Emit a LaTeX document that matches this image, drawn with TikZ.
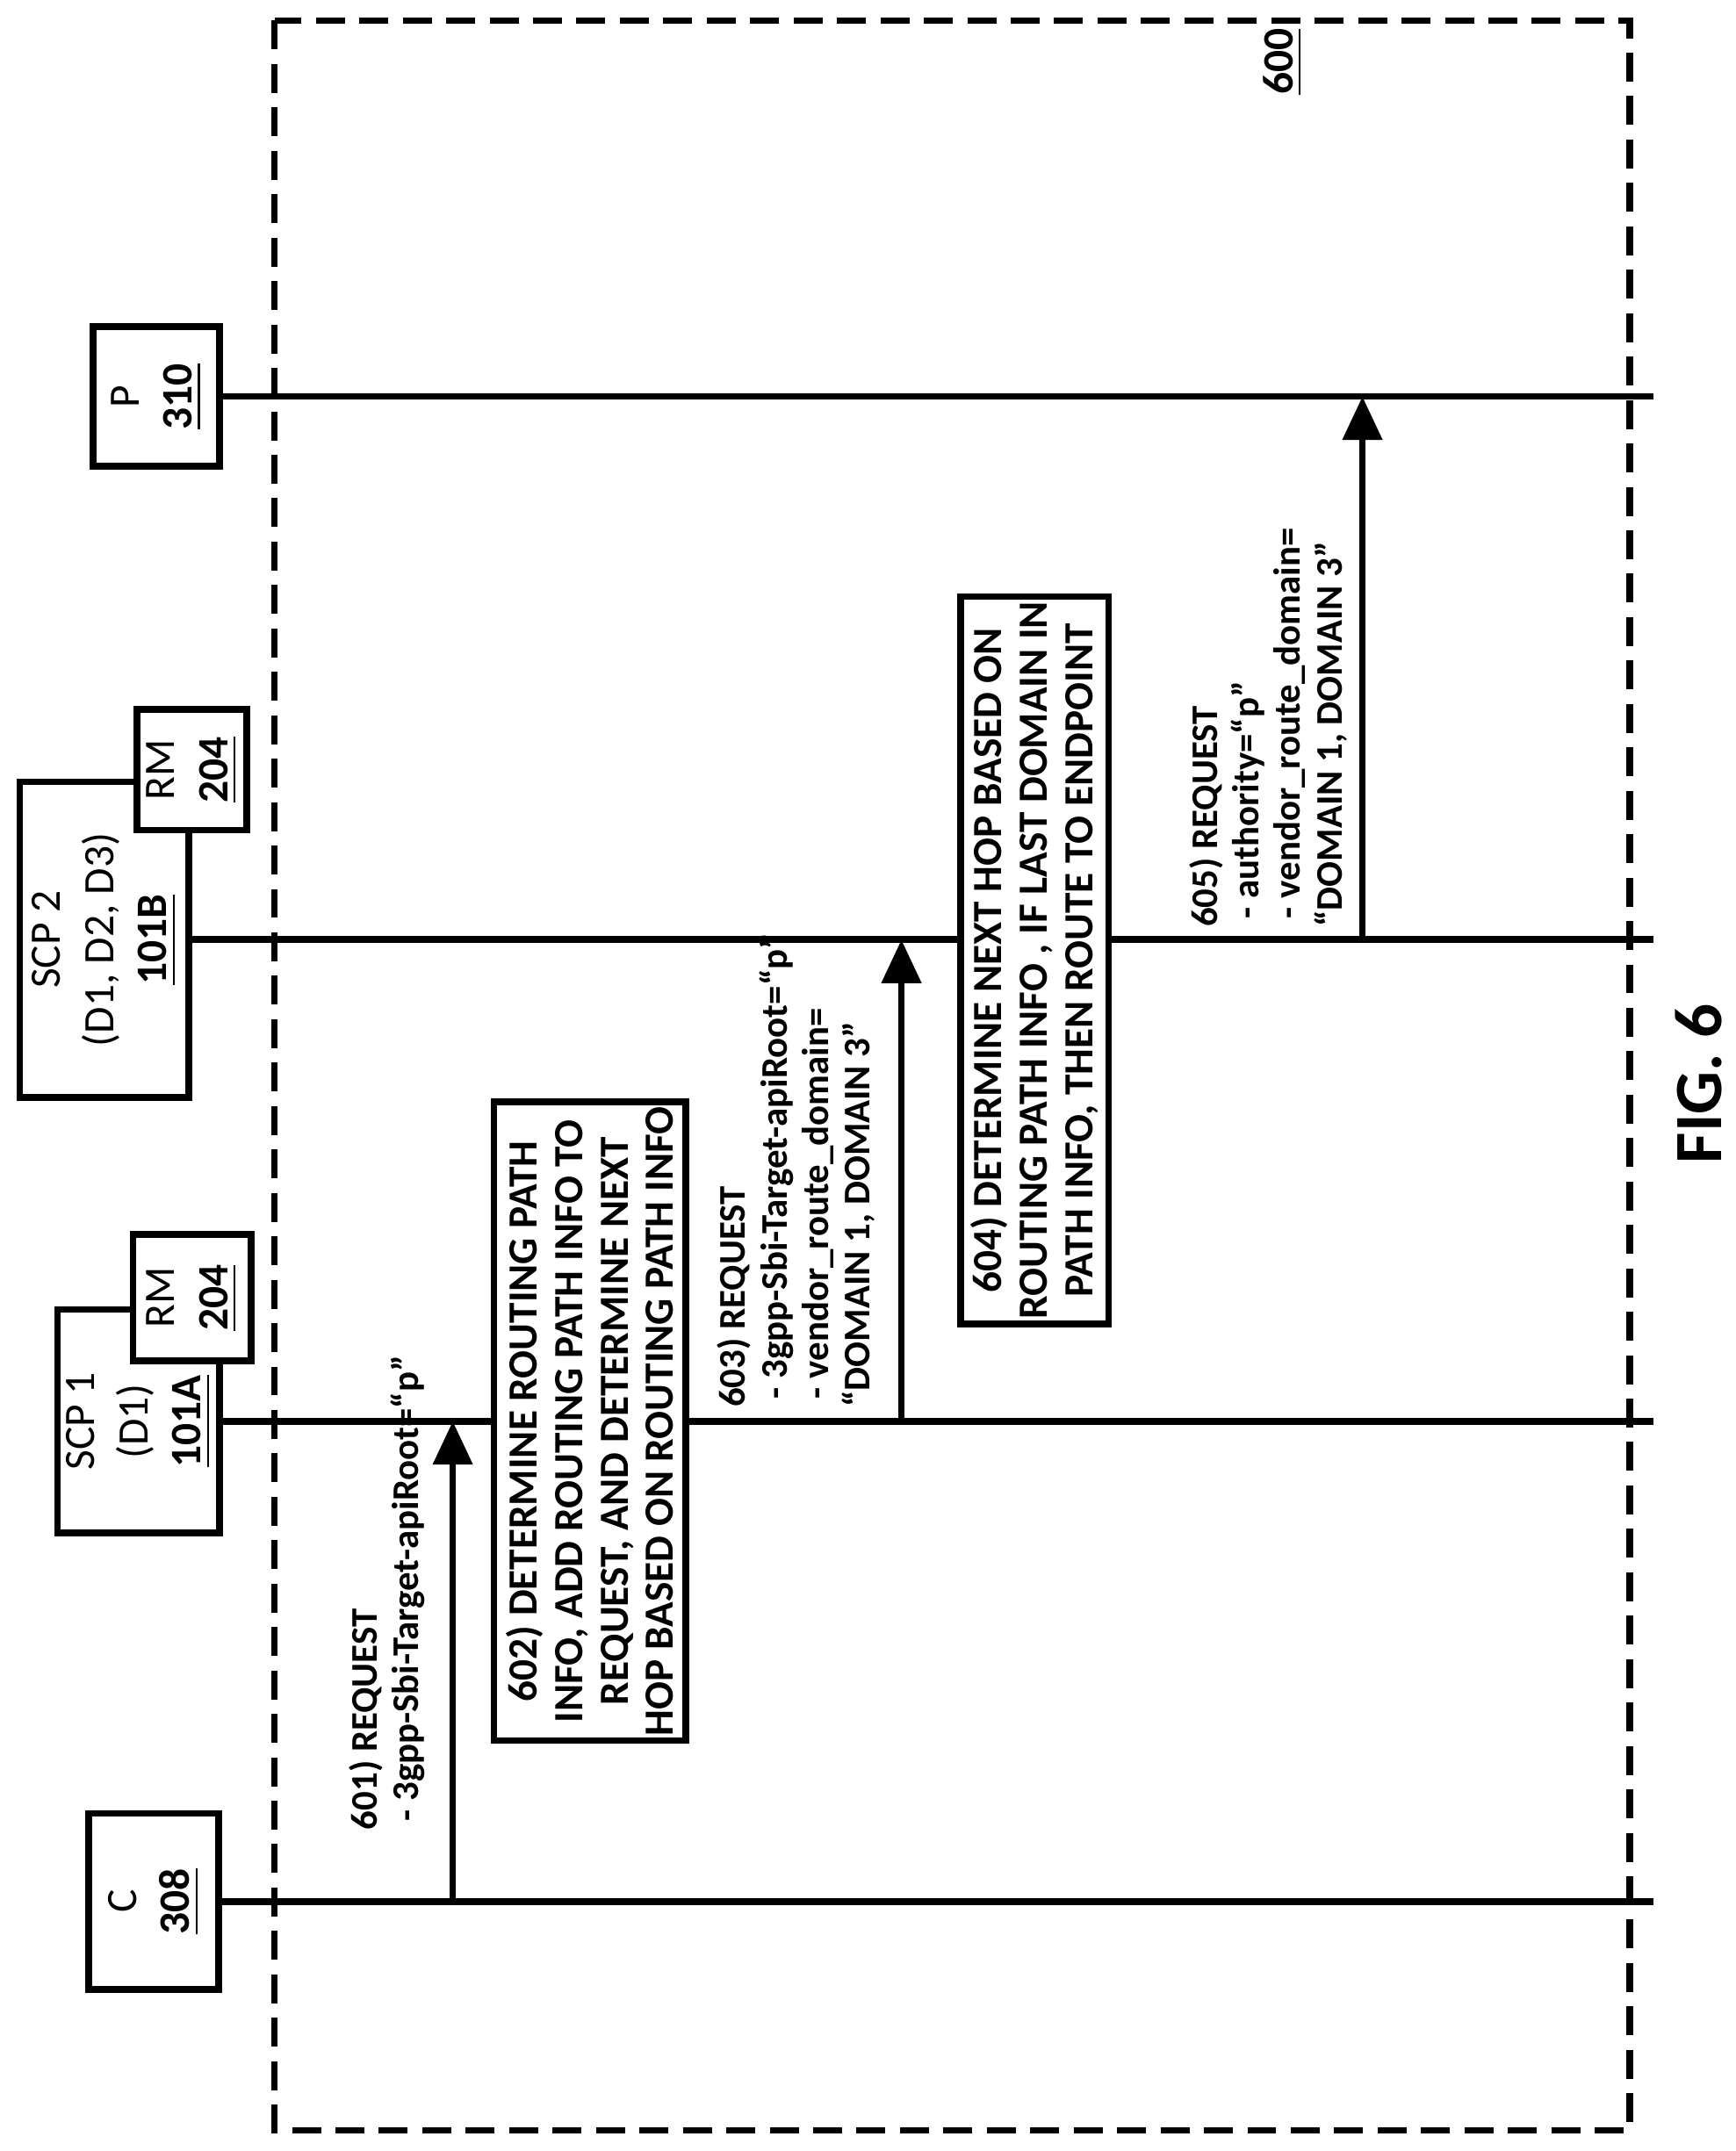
\documentclass[tikz,border=0pt]{standalone}
\usepackage{fontspec}
\setmainfont{Carlito}
\usetikzlibrary{arrows.meta}
\tikzset{
  ent/.style = {draw, line width=1.4pt, fill=white, rotate=90, align=center, inner sep=1pt, font=\fontsize{9}{11}\selectfont},
  life/.style = {line width=1.4pt},
  msg/.style = {line width=1.4pt, -{Triangle[length=9pt,width=8pt]}},
  lbl/.style = {rotate=90, anchor=south west, align=left, inner sep=1pt, font=\bfseries\fontsize{7.8}{8.6}\selectfont},
  procbox/.style = {draw, line width=1.4pt, fill=white, rotate=90, align=center, inner sep=1pt, font=\bfseries\fontsize{8.6}{9.4}\selectfont}
}
\begin{document}
\begin{tikzpicture}[x=0.01cm, y=-0.01cm]
    \useasboundingbox (0,0) rectangle (1265,1568);
    \draw[line width=1.4pt, dash pattern=on 6pt off 3pt] (200,15) rectangle (1188,1553);
    \node[rotate=90, font=\bfseries\fontsize{9}{11}\selectfont] (fig) at (935,45) {\underline{600}};
    % end points of the lifelines
    \coordinate (e) at (1205,0);
    % entities
    \node[ent, minimum width=1.28cm, minimum height=0.95cm] (c) at (112,1386) {C\\\textbf{\underline{308}}};
    \node[ent, minimum width=1.63cm, minimum height=1.18cm] (scp1) at (101,1036) {SCP 1\\(D1)\\\textbf{\underline{101A}}};
    \node[ent, minimum width=0.92cm, minimum height=0.86cm] (rm1) at (140,946) {RM\\\textbf{\underline{204}}};
    \node[ent, minimum width=2.30cm, minimum height=1.23cm] (scp2) at (76,685) {SCP 2\\(D1, D2, D3)\\\textbf{\underline{101B}}};
    \node[ent, minimum width=0.88cm, minimum height=0.80cm] (rm2) at (140,561) {RM\\\textbf{\underline{204}}};
    \node[ent, minimum width=1.02cm, minimum height=0.92cm] (p) at (114,289) {P\\\textbf{\underline{310}}};
    \draw[life] (c.south) -- (c.south -| e);
    \draw[life] (scp1.south) -- (scp1.south -| e);
    \draw[life] (scp2.south) -- (scp2.south -| e);
    \draw[life] (p.south) -- (p.south -| e);
    % messages
    \coordinate (m1a) at (330,1386);
    \coordinate (m1b) at (330,1036);
    \draw[msg] (m1a) -- (m1b);
    \node[lbl] (l601) at (314,1338) {601) REQUEST\\\ - 3gpp-Sbi-Target-apiRoot=“p”};
    \node[procbox, minimum width=4.17cm, minimum height=1.40cm] (s602) at (430,1036)
      {602) DETERMINE ROUTING PATH\\INFO, ADD ROUTING PATH INFO TO\\REQUEST, AND DETERMINE NEXT\\HOP BASED ON ROUTING PATH INFO};
    \coordinate (m3a) at (657,1036);
    \coordinate (m3b) at (657,685);
    \draw[msg] (m3a) -- (m3b);
    \node[lbl] (l603) at (642,1030) {603) REQUEST\\\ - 3gpp-Sbi-Target-apiRoot=“p”\\\ - vendor\_route\_domain=\\“DOMAIN 1, DOMAIN 3”};
    \node[procbox, minimum width=5.00cm, minimum height=1.08cm] (s604) at (754,700)
      {604) DETERMINE NEXT HOP BASED ON\\ROUTING PATH INFO , IF LAST DOMAIN IN\\PATH INFO, THEN ROUTE TO ENDPOINT};
    \coordinate (m5a) at (993,685);
    \coordinate (m5b) at (993,289);
    \draw[msg] (m5a) -- (m5b);
    \node[lbl] (l605) at (986,680) {605) REQUEST\\\ - authority=“p”\\\ - vendor\_route\_domain=\\“DOMAIN 1, DOMAIN 3”};
    \node[rotate=90, font=\bfseries\fontsize{14}{16}\selectfont] (title) at (1238,790) {FIG. 6};
\end{tikzpicture}
\end{document}
